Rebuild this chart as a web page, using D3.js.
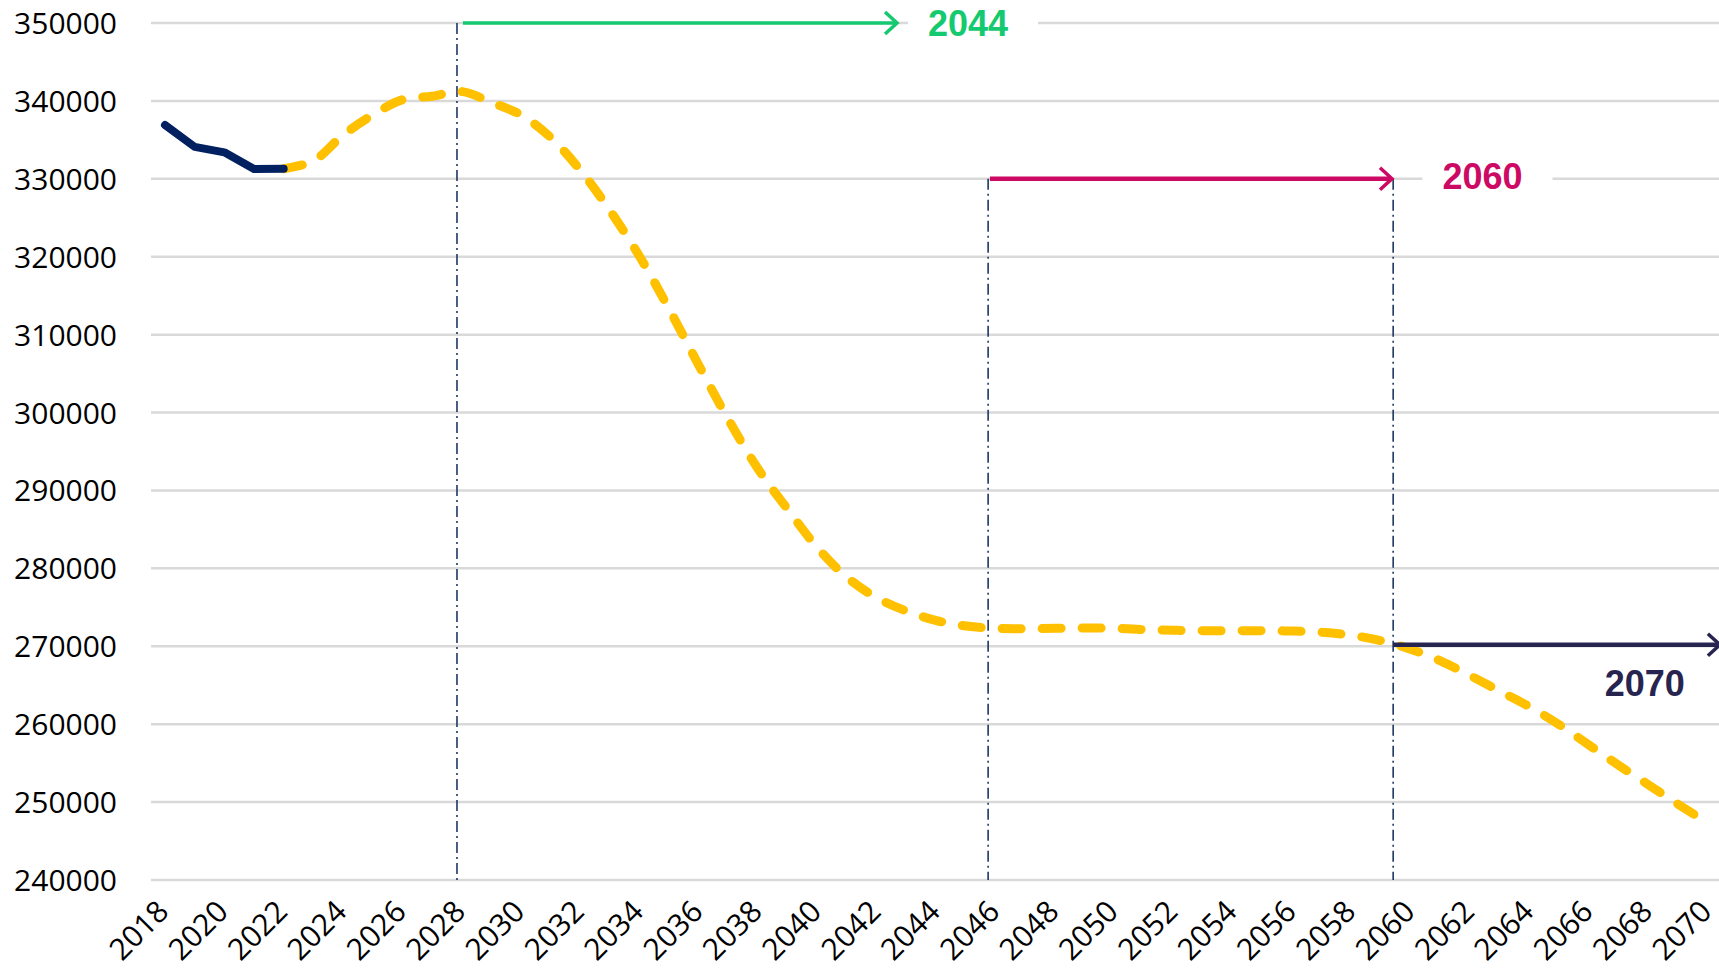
<!DOCTYPE html>
<html>
<head>
<meta charset="utf-8">
<script src="https://cdn.jsdelivr.net/npm/d3@7"></script>
<style>
  html, body { margin: 0; padding: 0; background: #fff; }
  svg { display: block; }
</style>
</head>
<body>
<svg id="chart" width="1719" height="974"></svg>
<script>
// ---- data ----
const histYears = [2018, 2019, 2020, 2021, 2022];
const histValues = [336900, 334100, 333400, 331250, 331300];
const projYears = d3.range(2022, 2071);
const projValues = [
  331300, 332300, 335600, 338200, 340150, 340600, 341200, 339800, 338200, 335300,
  331100, 325900, 320000, 313200, 306000, 299000, 292700, 287500, 282600, 278800,
  276200, 274500, 273300, 272600, 272300, 272250, 272300, 272350, 272300, 272150,
  272050, 272000, 272000, 272000, 271950, 271800, 271400, 270700, 269600, 268100,
  266200, 264200, 262200, 259900, 257300, 254700, 252200, 249700, 247300
];
const yTicks = [240000, 250000, 260000, 270000, 280000, 290000, 300000, 310000, 320000, 330000, 340000, 350000];
const xTickYears = d3.range(2018, 2071, 2);

// annotations (in data units)
const vlineYears = [2027.84, 2045.74, 2059.39];
const vlineTops = [350000, 330000, 330000];
const arrowStarts = [2028.04, 2045.8, 2059.39];
const arrowEnds = [2042.67, 2059.35, 2070.4];
const arrowValues = [350000, 330000, 270200];
const arrowColors = ["#14C96F", "#CC0A64", "#272550"];
const arrowWidths = [3.5, 4.5, 4.5];
const labelTexts = ["2044", "2060", "2070"];
const labelYears = [2045.06, 2062.4, 2067.87];
const labelValues = [350000, 330400, 265300];
const labelBoxed = [true, true, false];

// ---- chart ----
const svg = d3.select("#chart");
const x = d3.scaleLinear().domain([2018, 2070]).range([165, 1708]);
const y = d3.scaleLinear().domain([240000, 350000]).range([880, 23]);
const gridLeft = 151, gridRight = 1719;

// gridlines
svg.append("g").selectAll("line").data(yTicks).join("line")
  .attr("x1", gridLeft).attr("x2", gridRight)
  .attr("y1", d => y(d)).attr("y2", d => y(d))
  .attr("stroke", "#d9d9d9").attr("stroke-width", 2.5);

// y axis labels
const yAxis = d3.axisLeft(y).tickValues(yTicks).tickFormat(d3.format("d")).tickSize(0).tickPadding(0);
const gy = svg.append("g").attr("transform", "translate(117,0)").call(yAxis);
gy.select(".domain").remove();
gy.selectAll("text").attr("font-family", "'Open Sans', sans-serif").attr("font-size", 30)
  .attr("fill", "#000").attr("dy", "0.35em");

// x axis labels
const xAxis = d3.axisBottom(x).tickValues(xTickYears).tickFormat(d3.format("d")).tickSize(0).tickPadding(0);
const gx = svg.append("g").call(xAxis);
gx.select(".domain").remove();
gx.selectAll(".tick").attr("transform", d => `translate(${x(d) - 2},906)`);
gx.selectAll("text")
  .attr("font-family", "'Open Sans', sans-serif").attr("font-size", 30).attr("fill", "#000")
  .attr("text-anchor", "end").attr("y", 0).attr("dy", "0.35em")
  .attr("transform", "rotate(-45)");

const labelG = svg.append("g");
const boxG = labelG.append("g");
const labels = labelTexts.map((t, i) => ({t, yr: labelYears[i], v: labelValues[i], c: arrowColors[i], boxed: labelBoxed[i]}));

// vertical dash-dot lines
svg.append("g").selectAll("line").data(vlineYears).join("line")
  .attr("x1", d => x(d)).attr("x2", d => x(d))
  .attr("y1", (d, i) => y(vlineTops[i])).attr("y2", y(240000))
  .attr("stroke", "#1F3864").attr("stroke-width", 1.6)
  .attr("stroke-dasharray", "11,4,2,4");

// lines
svg.append("path")
  .datum(projYears.map((yr, i) => [yr, projValues[i]]))
  .attr("d", d3.line().x(d => x(d[0])).y(d => y(d[1])).curve(d3.curveCatmullRom.alpha(0.5)))
  .attr("fill", "none").attr("stroke", "#FFC000").attr("stroke-width", 9)
  .attr("stroke-linecap", "round").attr("stroke-dasharray", "19,21");
svg.append("path")
  .datum(histYears.map((yr, i) => [yr, histValues[i]]))
  .attr("d", d3.line().x(d => x(d[0])).y(d => y(d[1])))
  .attr("fill", "none").attr("stroke", "#002060").attr("stroke-width", 8)
  .attr("stroke-linecap", "round").attr("stroke-linejoin", "round");

// arrows
const arrowG = svg.append("g");
arrowStarts.forEach((s, i) => {
  const x1 = x(s), x2 = x(arrowEnds[i]), yy = y(arrowValues[i]);
  arrowG.append("line").attr("x1", x1).attr("x2", x2 - 1).attr("y1", yy).attr("y2", yy)
    .attr("stroke", arrowColors[i]).attr("stroke-width", arrowWidths[i]);
  arrowG.append("path")
    .attr("d", `M${x2 - 12},${yy - 11} L${x2},${yy} L${x2 - 12},${yy + 11}`)
    .attr("fill", "none").attr("stroke", arrowColors[i]).attr("stroke-width", 3.5)
    .attr("stroke-linejoin", "miter");
});

// labels
labels.forEach(l => {
  const txt = labelG.append("text")
    .attr("x", x(l.yr)).attr("y", y(l.v))
    .attr("text-anchor", "middle").attr("dy", "0.36em")
    .attr("font-family", "'Liberation Sans', Arial, sans-serif").attr("font-weight", "bold")
    .attr("font-size", 36).attr("fill", l.c).text(l.t);
  if (l.boxed) {
    const bb = txt.node().getBBox();
    boxG.append("rect").attr("x", bb.x - 20).attr("y", bb.y - 4)
      .attr("width", bb.width + 50).attr("height", bb.height + 8).attr("fill", "#fff");
  }
});
labelG.raise();
</script>
</body>
</html>
